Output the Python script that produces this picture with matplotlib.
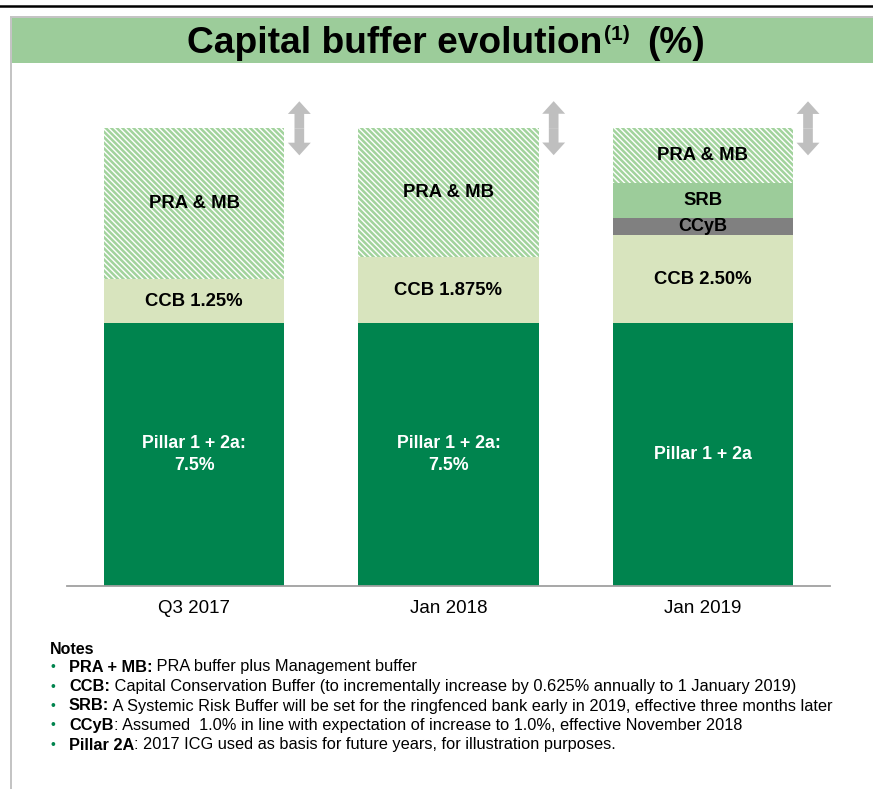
import matplotlib
matplotlib.use('Agg')
import matplotlib.pyplot as plt
from matplotlib.patches import Rectangle
from matplotlib.lines import Line2D

plt.rcParams['font.family'] = ['Liberation Sans', 'DejaVu Sans']
plt.rcParams['hatch.linewidth'] = 1.8

# data (%)
periods = ['Q3 2017', 'Jan 2018', 'Jan 2019']
pillar = [7.5, 7.5, 7.5]
ccb = [1.25, 1.875, 2.5]
ccyb = [0.0, 0.0, 0.5]
srb = [0.0, 0.0, 1.0]
pra_mb = [4.3, 3.68, 1.55]

pillar_lbl = ['Pillar 1 + 2a:\n7.5%', 'Pillar 1 + 2a:\n7.5%', 'Pillar 1 + 2a']
ccb_lbl = ['CCB 1.25%', 'CCB 1.875%', 'CCB 2.50%']

notes = [
    ('PRA + MB:', ' PRA buffer plus Management buffer'),
    ('CCB:', ' Capital Conservation Buffer (to incrementally increase by 0.625% annually to 1 January 2019)'),
    ('SRB:', ' A Systemic Risk Buffer will be set for the ringfenced bank early in 2019, effective three months later'),
    ('CCyB', ': Assumed  1.0% in line with expectation of increase to 1.0%, effective November 2018'),
    ('Pillar 2A', ': 2017 ICG used as basis for future years, for illustration purposes.'),
]

DARK = '#00844E'
CCB_C = '#D8E4BE'
SRB_C = '#9CCC9A'
CCYB_C = '#808080'
HATCH_C = '#A2D39D'

W, H = 873, 789
fig = plt.figure(figsize=(W / 100, H / 100), dpi=100)

# frame decorations
fig.add_artist(Line2D([0, 1], [1 - 6 / H, 1 - 6 / H], color='black', lw=1.8))
fig.add_artist(Rectangle((10 / W, 0), 2 / W, 1 - 16 / H, color='#C4C4C4', lw=0))
fig.add_artist(Rectangle((10 / W, 1 - 18 / H), 1, 2 / H, color='#C4C4C4', lw=0))
fig.add_artist(Rectangle((12 / W, 1 - 62.5 / H), 1, 44.5 / H, color='#9CCC9A', lw=0))

# title
ty = 1 - 53 / H
t1 = fig.text(187 / W, ty, 'Capital buffer evolution', fontsize=26.7, fontweight='bold',
              va='baseline', ha='left')
t2 = fig.text(0, 0, '(1)', fontsize=15, fontweight='bold', va='baseline')
fig.canvas.draw()
bb = t1.get_window_extent()
t2.set_position(((bb.x1 + 2) / W, 1 - 40 / H))
fig.canvas.draw()
bb2 = t2.get_window_extent()
fig.text((bb2.x1 + 17) / W, ty, '(%)', fontsize=26.7, fontweight='bold', va='baseline')

# chart
ax = fig.add_axes([67 / W, 1 - 586 / H, 763 / W, 491 / H])
ax.set_xlim(-0.5, 2.5)
ax.set_ylim(0, 14)
bw = 0.709
x = list(range(len(periods)))

b0 = [0.0] * 3
ax.bar(x, pillar, bw, bottom=b0, color=DARK, lw=0)
b1 = [b0[i] + pillar[i] for i in x]
ax.bar(x, ccb, bw, bottom=b1, color=CCB_C, lw=0)
b2 = [b1[i] + ccb[i] for i in x]
ax.bar(x, ccyb, bw, bottom=b2, color=CCYB_C, lw=0)
b3 = [b2[i] + ccyb[i] for i in x]
ax.bar(x, srb, bw, bottom=b3, color=SRB_C, lw=0)
b4 = [b3[i] + srb[i] for i in x]
ax.bar(x, pra_mb, bw, bottom=b4, facecolor='white', edgecolor=HATCH_C, lw=0,
       hatch='\\\\\\\\\\\\')
tops = [b4[i] + pra_mb[i] for i in x]

for i in x:
    ax.text(i, b0[i] + pillar[i] / 2, pillar_lbl[i], ha='center', va='center', color='white',
            fontsize=12.8, fontweight='bold', linespacing=1.45)
    ax.text(i, b1[i] + ccb[i] / 2, ccb_lbl[i], ha='center', va='center', fontsize=13.3,
            fontweight='bold')
    if ccyb[i] > 0:
        ax.text(i, b2[i] + ccyb[i] / 2, 'CCyB', ha='center', va='center', fontsize=13,
                fontweight='bold')
    if srb[i] > 0:
        ax.text(i, b3[i] + srb[i] / 2, 'SRB', ha='center', va='center', fontsize=13.3,
                fontweight='bold')
    ax.text(i, b4[i] + pra_mb[i] / 2, 'PRA & MB', ha='center', va='center', fontsize=13.3,
            fontweight='bold')
    # grey double arrow centred on the bar top
    ax_x = i + bw / 2 + 0.059
    for d in (1, -1):
        ax.arrow(ax_x, tops[i], 0, d * 0.77, width=0.038, head_width=0.09,
                 head_length=0.36, length_includes_head=True, color='#BFBFBF', lw=0)

for s in ['top', 'right', 'left']:
    ax.spines[s].set_visible(False)
ax.spines['bottom'].set_color('#A0A0A0')
ax.spines['bottom'].set_linewidth(1.3)
ax.set_yticks([])
ax.set_xticks(x)
ax.set_xticklabels(periods, fontsize=13.5)
ax.tick_params(axis='x', length=0, pad=10)

# notes
fig.text(50 / W, 1 - 650 / H, 'Notes', fontsize=11.5, fontweight='bold', va='center')
for k, (bold, rest) in enumerate(notes):
    yy = 1 - (667 + 19.5 * k) / H
    fig.text(52.5 / W, yy, '\u2022', color=DARK, fontsize=10, va='center', ha='center')
    tb = fig.text(69 / W, yy, bold, fontsize=11.8, fontweight='bold', va='center')
    fig.canvas.draw()
    e = tb.get_window_extent()
    fig.text(e.x1 / W, yy, rest, fontsize=11.8, va='center')

fig.savefig('out.png', dpi=100)
